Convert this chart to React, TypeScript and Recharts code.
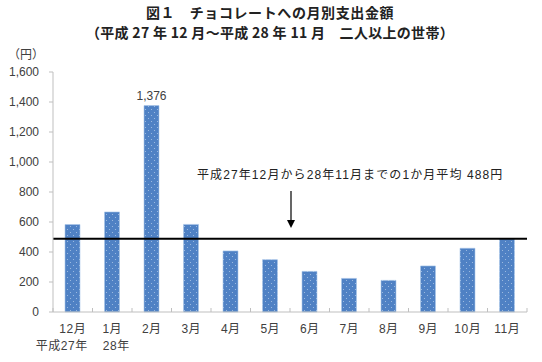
import React from "react";
import { BarChart, Bar, XAxis, YAxis, ReferenceLine, LabelList } from "recharts";

const months = ["12月", "1月", "2月", "3月", "4月", "5月", "6月", "7月", "8月", "9月", "10月", "11月"];
const yearLabels = ["平成27年", "28年", "", "", "", "", "", "", "", "", "", ""];
const spending = [583, 667, 1376, 584, 407, 349, 271, 224, 211, 307, 425, 487];
const valueLabels = ["", "", "1,376", "", "", "", "", "", "", "", "", ""];
const yTicks = [0, 200, 400, 600, 800, 1000, 1200, 1400, 1600];
const average = 488;

const data = months.map((m, i) => ({
  month: m,
  year: yearLabels[i],
  value: spending[i],
  label: valueLabels[i],
}));

const FONT = "'Liberation Sans', 'Noto Sans CJK JP', sans-serif";
const TEXT = "#404040";

const XTick = (props: any) => {
  const { x, y, payload, index } = props;
  const off = payload.offset || 0;
  const row = data[index] || data.find((d) => d.month === payload.value);
  return (
    <g>
      <line x1={x - off} x2={x - off} y1={y - 4} y2={y} stroke="#bfbfbf" />
      {index === months.length - 1 && (
        <line x1={x + off} x2={x + off} y1={y - 4} y2={y} stroke="#bfbfbf" />
      )}
      <text x={x} y={y + 21} textAnchor="middle" fontSize={12} fill={TEXT} fontFamily={FONT} letterSpacing={0.5}>
        {payload.value}
      </text>
      {row && row.year && (
        <text x={x - (index === 0 ? 11 : -4)} y={y + 38} textAnchor="middle" fontSize={12} fill={TEXT} fontFamily={FONT} letterSpacing={0.5}>
          {row.year}
        </text>
      )}
    </g>
  );
};

export default function App() {
  return (
    <div style={{ position: "absolute", left: 0, top: 0, width: 542, height: 362, background: "#fff" }}>
      <svg width={542} height={362} style={{ position: "absolute", left: 0, top: 0 }}>
        <text x={270} y={18} textAnchor="middle" fontSize={14} fontWeight="bold" fill="#222" fontFamily="'Noto Sans CJK JP', sans-serif" letterSpacing={0.6}>
          図１　チョコレートへの月別支出金額
        </text>
        <text x={270} y={38} textAnchor="middle" fontSize={14} fontWeight="bold" fill="#222" fontFamily="'Noto Sans CJK JP', sans-serif" letterSpacing={0.3}>
          （平成 27 年 12 月～平成 28 年 11 月　二人以上の世帯）
        </text>
        <text x={8} y={59} fontSize={12} fill={TEXT} fontFamily={FONT}>（円）</text>
      </svg>
      <div style={{ position: "absolute", left: 0, top: 0 }}>
        <BarChart
          width={542}
          height={362}
          data={data}
          margin={{ top: 72, right: 15, bottom: 10, left: 0 }}
          barCategoryGap="0%"
        >
          <defs>
            <pattern id="dots" width="6" height="6" patternUnits="userSpaceOnUse">
              <rect width="6" height="6" fill="#4f81c4" />
              <circle cx="1.5" cy="1.5" r="0.55" fill="#a9c3e6" />
              <circle cx="4.5" cy="4.5" r="0.55" fill="#a9c3e6" />
            </pattern>
          </defs>
          <XAxis
            dataKey="month"
            stroke="#bfbfbf"
            tickLine={false}
            tickSize={0}
            tickMargin={0}
            height={40}
            interval={0}
            tick={<XTick />}
          />
          <YAxis
            domain={[0, 1600]}
            ticks={yTicks}
            width={53}
            stroke="#bfbfbf"
            tickSize={4}
            tickMargin={10}
            interval={0}
            tick={{ fontSize: 12, fill: TEXT, fontFamily: FONT }}
            tickFormatter={(v: number) => v.toLocaleString("en-US")}
          />
          <Bar dataKey="value" fill="url(#dots)" stroke="#a9c6ea" strokeWidth={0.6} barSize={15} isAnimationActive={false}>
            <LabelList dataKey="label" position="top" offset={6} fontSize={12} fill={TEXT} fontFamily={FONT} />
          </Bar>
          <ReferenceLine y={average} stroke="#000" strokeWidth={2} ifOverflow="extendDomain" />
        </BarChart>
      </div>
      <svg width={542} height={362} style={{ position: "absolute", left: 0, top: 0, pointerEvents: "none" }}>
        <text x={197} y={179} fontSize={12} fill="#222" fontFamily={FONT} letterSpacing={1.1}>
          平成27年12月から28年11月までの1か月平均 488円
        </text>
        <line x1={291} x2={291} y1={191} y2={221} stroke="#000" strokeWidth={1.2} />
        <polygon points="287,220 295,220 291,228" fill="#000" />
      </svg>
    </div>
  );
}
